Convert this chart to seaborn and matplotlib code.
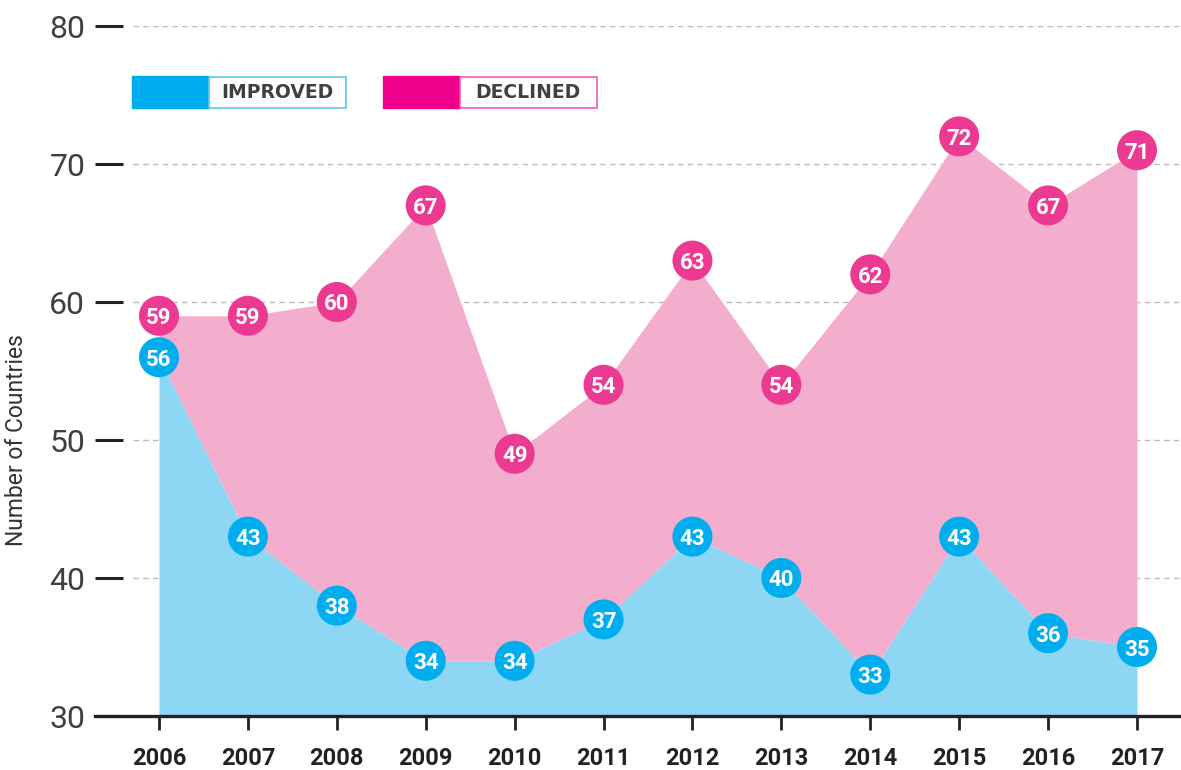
import matplotlib
matplotlib.use('Agg')
import matplotlib.pyplot as plt
import seaborn as sns
import pandas as pd
from matplotlib.patches import Rectangle

# datos
years = [2006, 2007, 2008, 2009, 2010, 2011, 2012, 2013, 2014, 2015, 2016, 2017]
improved = [56, 43, 38, 34, 34, 37, 43, 40, 33, 43, 36, 35]
declined = [59, 59, 60, 67, 49, 54, 63, 54, 62, 72, 67, 71]
y_ticks = [30, 40, 50, 60, 70, 80]
legend_labels = ['IMPROVED', 'DECLINED']

df = pd.DataFrame({'year': years, 'improved': improved, 'declined': declined})

# colores
BLUE_FILL = '#8DD7F5'
PINK_FILL = '#F3ADCD'
BLUE_DOT = '#00AEEF'
PINK_DOT = '#EC3A93'
BLUE_LEG = '#00AEEF'
PINK_LEG = '#EC008C'

sns.set_style('white')
plt.rcParams['font.family'] = ['Roboto', 'DejaVu Sans']

fig = plt.figure(figsize=(11.81, 7.70), dpi=100)
ax = fig.add_axes([95 / 1181, 54 / 770, 1 - 95 / 1181, (716 - 26) / 770])

x_left = 2006 - 64 / 88.9
x_right = 2017 + 44 / 88.9
ax.set_xlim(x_left, x_right)
ax.set_ylim(30, 80)

# rellenos
ax.fill_between(df['year'], 30, df['improved'], color=BLUE_FILL, lw=0, zorder=2)
ax.fill_between(df['year'], df['improved'], df['declined'], color=PINK_FILL, lw=0, zorder=2)

# lineas de grilla punteadas
grid_start = 2006 - 26 / 88.9
ax.hlines(y_ticks[1:], grid_start, x_right, colors='#BBBBBB', linestyles=(0, (4, 3)),
          linewidth=1, zorder=1)

# puntos
sns.scatterplot(data=df, x='year', y='declined', color=PINK_DOT, s=830,
                edgecolor='none', ax=ax, zorder=4)
sns.scatterplot(data=df, x='year', y='improved', color=BLUE_DOT, s=830,
                edgecolor='none', ax=ax, zorder=4)

for _, r in df.iterrows():
    ax.text(r['year'], r['declined'], f"{int(r['declined'])}", color='white',
            fontsize=16, fontweight='bold', ha='center', va='center_baseline', zorder=5)
    ax.text(r['year'], r['improved'], f"{int(r['improved'])}", color='white',
            fontsize=16, fontweight='bold', ha='center', va='center_baseline', zorder=5)

# ejes
for s in ['left', 'top', 'right']:
    ax.spines[s].set_visible(False)
ax.spines['bottom'].set_color('#222222')
ax.spines['bottom'].set_linewidth(2.4)
ax.spines['bottom'].set_zorder(6)

ax.set_xticks(years)
ax.set_xticklabels([str(y) for y in years], fontsize=17, fontweight='bold', color='#222222')
ax.tick_params(axis='x', direction='out', length=10, width=2, color='#222222', pad=12,
               bottom=True)
ax.set_yticks(y_ticks)
ax.set_yticklabels([str(y) for y in y_ticks], fontsize=23, fontweight='normal', color='#3F3F3F')
ax.tick_params(axis='y', direction='in', length=20, width=2.2, color='#222222', pad=7,
               left=True)
ax.set_xlabel('')
ax.set_ylabel('Number of Countries', fontsize=16.5, color='#333333')
ax.yaxis.set_label_coords(-67 / 1086, 0.4)

# leyenda manual
def legend_box(x0, color, border, label):
    H = 770
    fig.patches.append(Rectangle((x0 / 1181, (H - 108) / H), 77 / 1181, 32 / H,
                                 transform=fig.transFigure, color=color, zorder=10))
    fig.patches.append(Rectangle(((x0 + 77) / 1181, (H - 107.5) / H), 137 / 1181, 31 / H,
                                 transform=fig.transFigure, facecolor='white',
                                 edgecolor=border, lw=1.2, zorder=10))
    fig.text((x0 + 77 + 68) / 1181, (H - 92) / H, label, fontsize=13.5, fontweight='bold',
             family='DejaVu Sans', color='#404040', ha='center', va='center', zorder=11)

legend_box(132, BLUE_LEG, '#5CC8F2', legend_labels[0])
legend_box(383, PINK_LEG, '#F25AB0', legend_labels[1])

plt.savefig('out.png', dpi=100)
